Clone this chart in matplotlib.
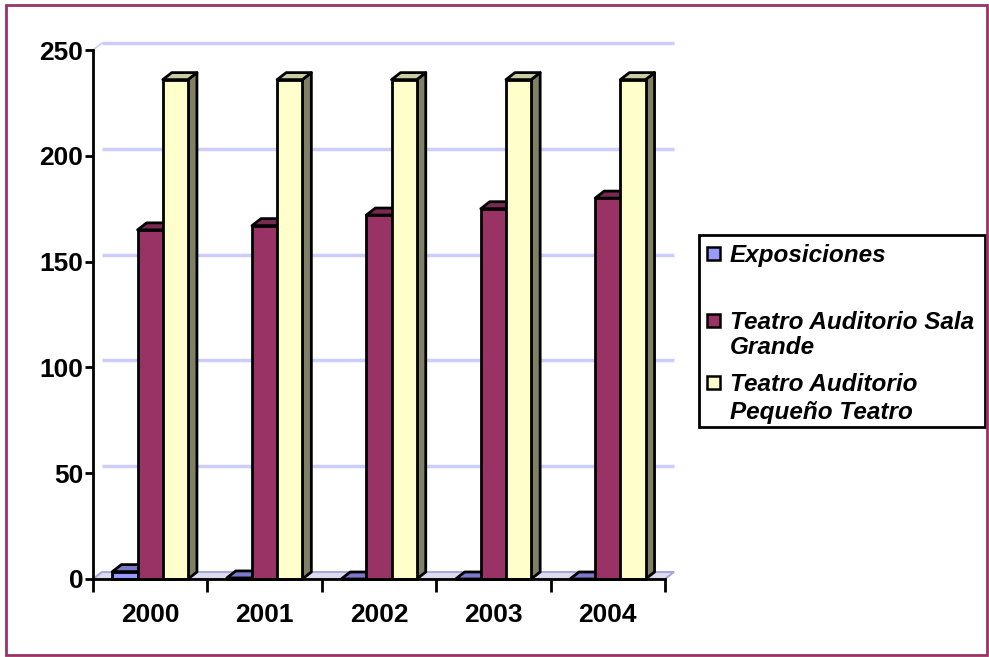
import numpy as np
import matplotlib

matplotlib.use("Agg")
import matplotlib.pyplot as plt
from matplotlib.patches import Polygon, Rectangle

years = ["2000", "2001", "2002", "2003", "2004"]
series = [["Exposiciones"], ["Teatro Auditorio Sala", "Grande"], ["Teatro Auditorio", "Pequeño Teatro"]]
exposiciones = [3.5, 0.5, 0, 0, 0]
sala_grande = [165, 167, 172, 175, 180]
pequeno_teatro = [236, 236, 236, 236, 236]
y_ticks = [0, 50, 100, 150, 200, 250]

# front / top / side colours for each series
front = ["#9999FF", "#993366", "#FFFFCC"]
top = ["#7A7ACC", "#7A2952", "#CCCCA3"]
side = ["#4D4D80", "#4D1A33", "#808066"]

plt.rcParams["font.family"] = ["Liberation Sans", "DejaVu Sans"]

W, H = 989, 657
fig = plt.figure(figsize=(W / 100, H / 100), dpi=100)
ax_l, ax_r, ax_b, ax_t = 93, 665, 579, 50
ax = fig.add_axes([ax_l / W, (H - ax_b) / H, (ax_r - ax_l) / W, (ax_b - ax_t) / H])
ax.set_xlim(-0.5, 4.5)
ax.set_ylim(0, 250)
ax.patch.set_visible(False)

# depth of the fake 3d in pixels -> data units
dpx, dpy = 9, 7
ddx = dpx * 5.0 / (ax_r - ax_l)
ddy = dpy * 250.0 / (ax_b - ax_t)

# gridlines on the back wall
for v in y_ticks[1:]:
    ax.plot([-0.5 + ddx, 4.5 + ddx], [v + ddy, v + ddy], color="#CCCCFF",
            lw=2.5, zorder=1, clip_on=False, solid_capstyle="butt")
ax.plot([-0.5, -0.5 + ddx], [250, 250 + ddy], color="#CCCCFF", lw=1.2,
        zorder=1, clip_on=False)

# floor
floor = Polygon([(-0.5, 0), (4.5, 0), (4.5 + ddx, ddy), (-0.5 + ddx, ddy)],
                closed=True, facecolor="#DCDCEC", edgecolor="#A8A8D8", lw=1.5,
                zorder=2, clip_on=False)
ax.add_patch(floor)

x = np.arange(len(years))
w = 0.22
data = [exposiciones, sala_grande, pequeno_teatro]
z = 3
for i in range(len(years)):
    for s in range(3):
        h = data[s][i]
        x0 = x[i] + (s - 1) * w - w / 2
        x1 = x0 + w
        ax.add_patch(Polygon([(x1, 0), (x1, h), (x1 + ddx, h + ddy), (x1 + ddx, ddy)],
                             closed=True, facecolor=side[s], edgecolor="black",
                             lw=2, joinstyle="round", zorder=z, clip_on=False))
        ax.add_patch(Polygon([(x0, h), (x1, h), (x1 + ddx, h + ddy), (x0 + ddx, h + ddy)],
                             closed=True, facecolor=top[s], edgecolor="black",
                             lw=2, joinstyle="round", zorder=z, clip_on=False))
        ax.bar(x0, h, width=w, align="edge", color=front[s], edgecolor="black",
               lw=2, zorder=z + 0.5, clip_on=False)
        z += 1

# axes
for sp in ["top", "right"]:
    ax.spines[sp].set_visible(False)
ax.spines["left"].set_linewidth(2)
ax.spines["bottom"].set_linewidth(2)
ax.spines["left"].set_zorder(50)
ax.spines["bottom"].set_zorder(50)
ax.set_yticks(y_ticks)
ax.set_yticklabels([str(v) for v in y_ticks], fontsize=19, fontweight="bold")
ax.tick_params(axis="y", direction="out", length=6, width=2, pad=1)
ax.set_xticks(np.arange(-0.5, 5, 1))
ax.set_xticklabels([])
ax.set_xticks(x, minor=True)
ax.set_xticklabels(years, minor=True, fontsize=19, fontweight="bold")
ax.tick_params(axis="x", which="major", direction="out", length=9, width=2)
ax.tick_params(axis="x", which="minor", length=0, pad=17)

# legend drawn by hand
fig.patches.append(Rectangle((699 / W, 1 - 427 / H), 286 / W, 192 / H,
                             transform=fig.transFigure, facecolor="white",
                             edgecolor="black", lw=2))
leg_y = [[253], [320, 345], [382, 410]]
for s in range(3):
    fig.patches.append(Rectangle((707 / W, 1 - (leg_y[s][0] + 7) / H), 13 / W, 13 / H,
                                 transform=fig.transFigure, facecolor=front[s],
                                 edgecolor="black", lw=1.8))
    for line, yy in zip(series[s], leg_y[s]):
        fig.text(730 / W, 1 - yy / H, line, fontsize=17.5,
                 fontweight="bold", fontstyle="italic", va="center_baseline",
                 ha="left")

# outer border
fig.patches.append(Rectangle((6 / W, 1 - 655 / H), 981 / W, 650 / H,
                             transform=fig.transFigure, facecolor="none",
                             edgecolor="#993366", lw=2))

plt.savefig("out.png", dpi=100)
